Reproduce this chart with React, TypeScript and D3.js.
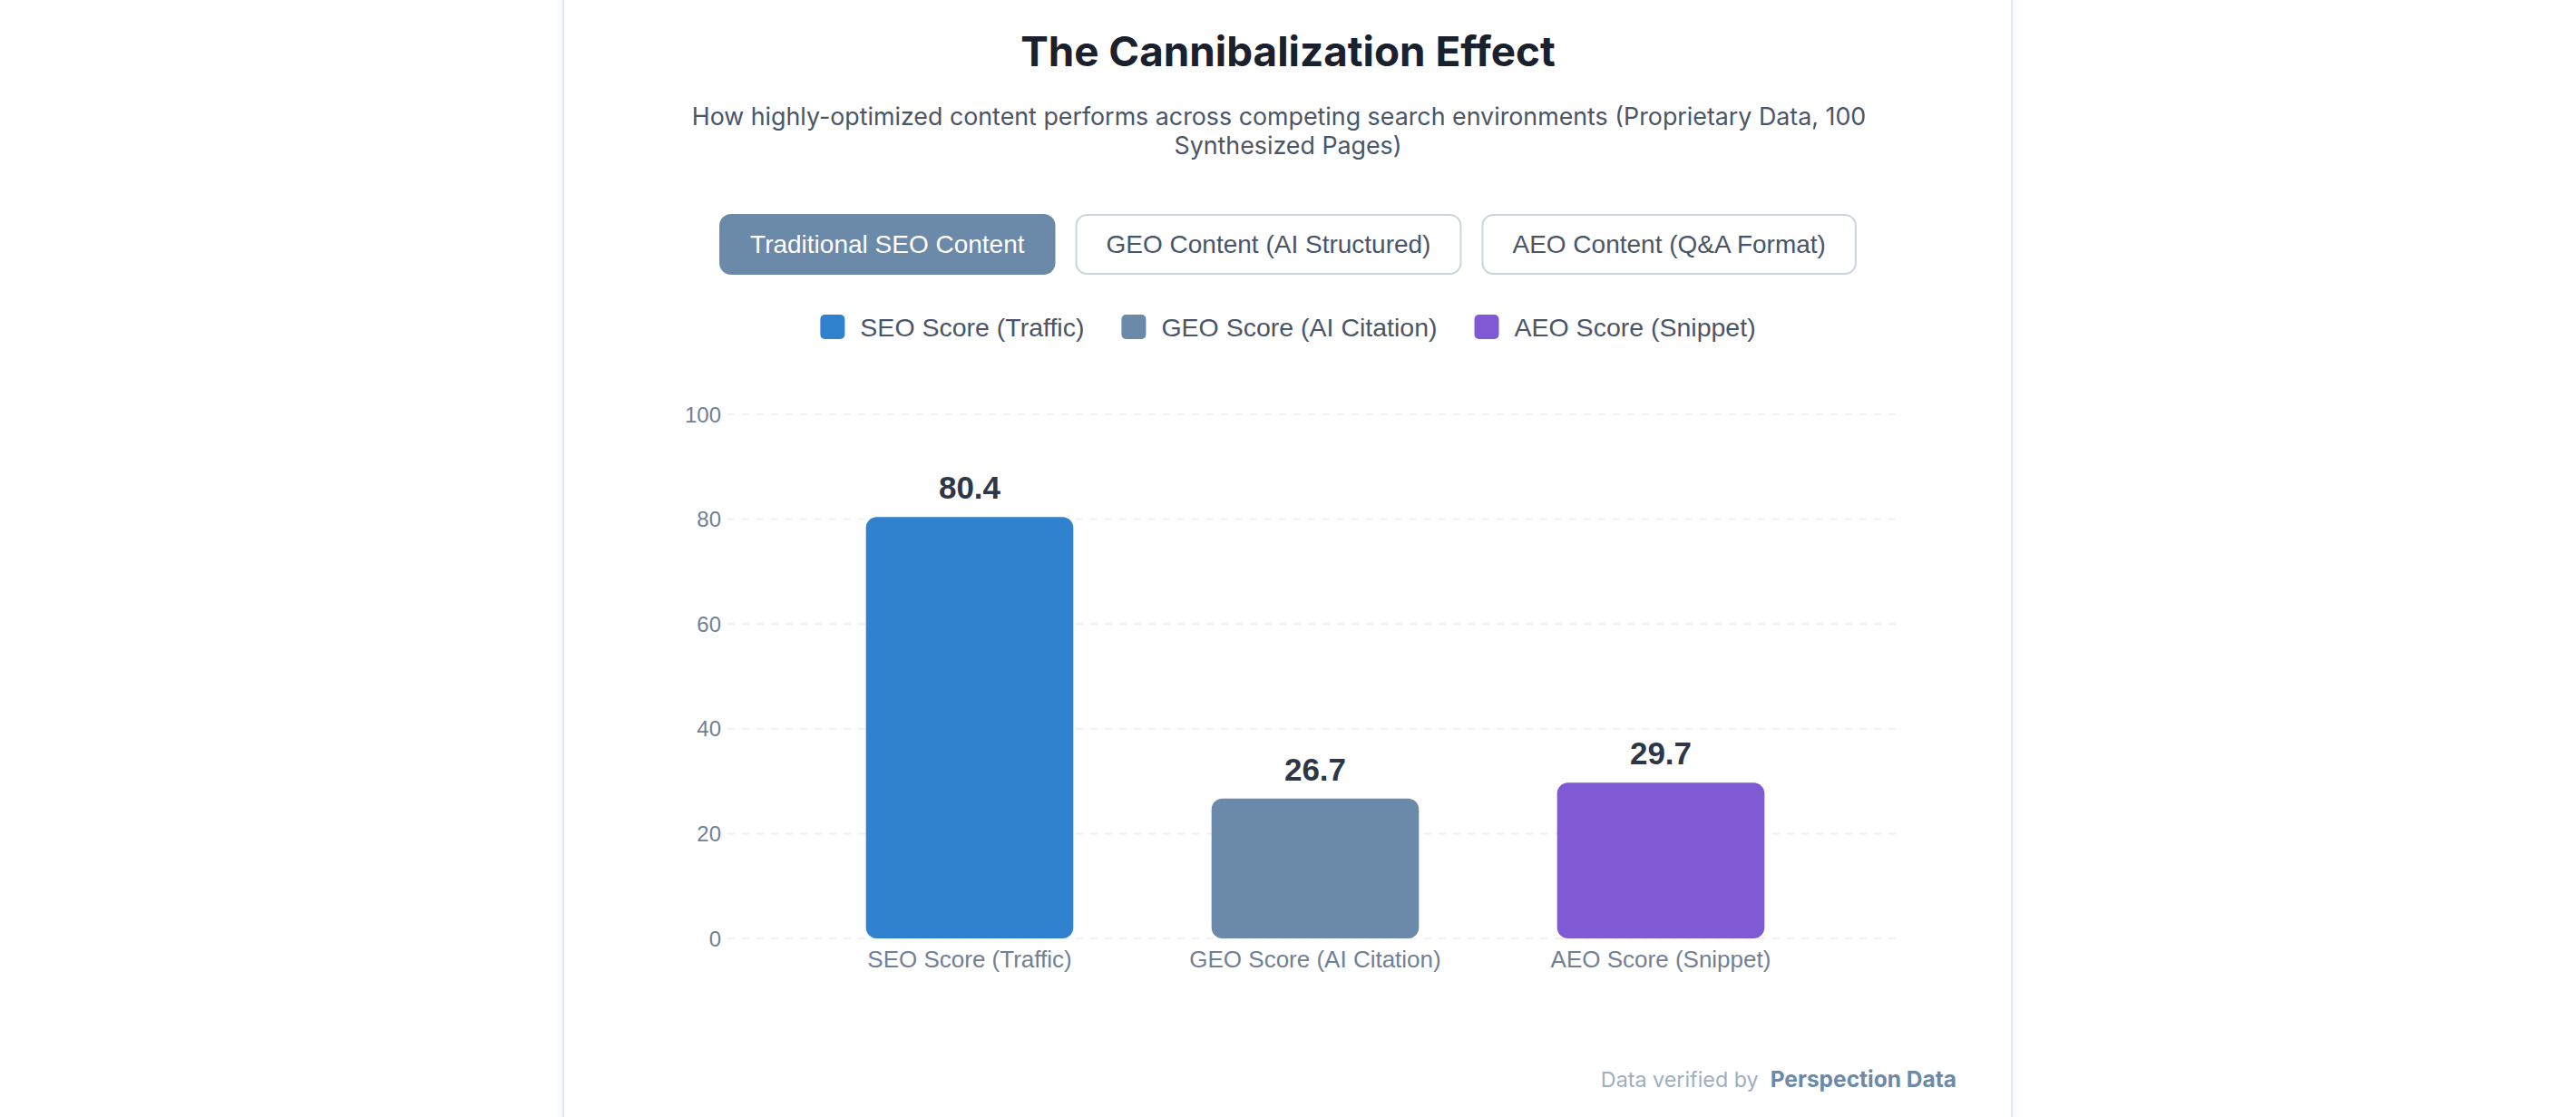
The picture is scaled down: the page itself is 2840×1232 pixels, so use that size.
import React, { useEffect, useRef } from "react";
import * as d3 from "d3";

const categories = ["SEO Score (Traffic)", "GEO Score (AI Citation)", "AEO Score (Snippet)"];
const scores = [80.4, 26.7, 29.7];
const barColors = ["#3182ce", "#6b89a8", "#805ad5"];
const yTicks = [0, 20, 40, 60, 80, 100];
const buttonLabels = ["Traditional SEO Content", "GEO Content (AI Structured)", "AEO Content (Q&A Format)"];
const titleText = "The Cannibalization Effect";
const subtitleLines = [
  "How highly-optimized content performs across competing search environments (Proprietary Data, 100",
  "Synthesized Pages)",
];

const SANS = "Inter, 'Noto Sans', sans-serif";
const HELV = "'Liberation Sans', Arial, sans-serif";

export default function App() {
  const ref = useRef<SVGSVGElement>(null);
  useEffect(() => {
    const svg = d3.select(ref.current);
    svg.selectAll("*").remove();
    const W = 2840;
    const cx = W / 2;

    const defs = svg.append("defs");
    const f = defs.append("filter").attr("id", "sh").attr("x", "-5%").attr("y", "-5%").attr("width", "110%").attr("height", "110%");
    f.append("feDropShadow").attr("dx", 0).attr("dy", 2).attr("stdDeviation", 6).attr("flood-color", "#000").attr("flood-opacity", 0.05);

    svg.append("rect").attr("x", 0).attr("y", 0).attr("width", W).attr("height", 1232).attr("fill", "#ffffff");
    svg.append("rect").attr("x", 621).attr("y", -40).attr("width", 1597).attr("height", 1320)
      .attr("fill", "#ffffff").attr("stroke", "#e2e8f0").attr("stroke-width", 2).attr("filter", "url(#sh)");

    // Title
    svg.append("text").attr("x", cx).attr("y", 73).attr("text-anchor", "middle")
      .attr("font-family", SANS).attr("font-weight", 700).attr("font-size", 45.8).attr("fill", "#1a202c")
      .text(titleText);

    svg.append("g").selectAll("text").data(subtitleLines).join("text")
      .attr("x", (_d, i) => (i === 0 ? cx - 10 : cx)).attr("y", (_d, i) => 138 + i * 32).attr("text-anchor", "middle")
      .attr("font-family", SANS).attr("font-size", 26.8).attr("fill", "#4a5568").text((d) => d);

    // Buttons
    const bg = svg.append("g");
    const padX = 34, gapB = 22, bY = 236, bH = 67;
    const btnTexts = buttonLabels.map((t, i) =>
      bg.append("text").attr("font-family", HELV).attr("font-size", 28)
        .attr("fill", i === 0 ? "#ffffff" : "#4a5568").attr("text-anchor", "middle")
        .attr("y", bY + bH / 2).attr("dominant-baseline", "central").text(t)
    );
    const bw = btnTexts.map((t) => (t.node() as SVGTextElement).getComputedTextLength() + padX * 2);
    const totalB = d3.sum(bw) + gapB * (bw.length - 1);
    let bx = cx - totalB / 2;
    btnTexts.forEach((t, i) => {
      bg.insert("rect", "text").attr("x", bx + 1).attr("y", bY + 1).attr("width", bw[i] - 2).attr("height", bH - 2)
        .attr("rx", 12).attr("fill", i === 0 ? "#6b89a8" : "#ffffff")
        .attr("stroke", i === 0 ? "#6b89a8" : "#cbd5e0").attr("stroke-width", 2);
      t.attr("x", bx + bw[i] / 2);
      bx += bw[i] + gapB;
    });

    // Legend
    const lg = svg.append("g");
    const box = 27, boxGap = 17, itemGap = 41, lY = 360.5;
    const lTexts = categories.map((c) =>
      lg.append("text").attr("font-family", HELV).attr("font-size", 28.5).attr("fill", "#4a5568")
        .attr("y", lY).attr("dominant-baseline", "central").text(c)
    );
    const lw = lTexts.map((t) => (t.node() as SVGTextElement).getComputedTextLength());
    const totalL = d3.sum(lw) + categories.length * (box + boxGap) + itemGap * (categories.length - 1);
    let lx = cx - totalL / 2;
    lTexts.forEach((t, i) => {
      lg.append("rect").attr("x", lx).attr("y", lY - box / 2).attr("width", box).attr("height", box)
        .attr("rx", 5).attr("fill", barColors[i]);
      t.attr("x", lx + box + boxGap);
      lx += box + boxGap + lw[i] + itemGap;
    });

    // Chart
    const y = d3.scaleLinear().domain([0, 100]).range([1035, 457]);
    const x = d3.scaleBand<string>().domain(categories).range([878.5, 2021.5]).paddingInner(0.4).paddingOuter(0.2);
    const gridL = 802, gridR = 2098;

    const grid = svg.append("g");
    grid.selectAll("line").data(yTicks).join("line")
      .attr("x1", gridL).attr("x2", gridR).attr("y1", (d) => y(d)).attr("y2", (d) => y(d))
      .attr("stroke", "#edf0f4").attr("stroke-width", 2).attr("stroke-dasharray", "8,8");
    grid.selectAll("text").data(yTicks).join("text")
      .attr("x", 795).attr("y", (d) => y(d)).attr("text-anchor", "end").attr("dominant-baseline", "central")
      .attr("font-family", HELV).attr("font-size", 24).attr("fill", "#718096").text((d) => d);

    const bars = svg.append("g");
    bars.selectAll("rect").data(scores).join("rect")
      .attr("x", (_d, i) => x(categories[i])!).attr("width", x.bandwidth())
      .attr("y", (d) => y(d)).attr("height", (d) => y(0) - y(d)).attr("rx", 12)
      .attr("fill", (_d, i) => barColors[i]);
    bars.selectAll("text.v").data(scores).join("text").attr("class", "v")
      .attr("x", (_d, i) => x(categories[i])! + x.bandwidth() / 2).attr("y", (d) => y(d) - 20)
      .attr("text-anchor", "middle").attr("font-family", HELV).attr("font-weight", 700)
      .attr("font-size", 35).attr("fill", "#2d3748").text((d) => d.toFixed(1));

    svg.append("g").selectAll("text").data(categories).join("text")
      .attr("x", (d) => x(d)! + x.bandwidth() / 2).attr("y", 1067).attr("text-anchor", "middle")
      .attr("font-family", HELV).attr("font-size", 26).attr("fill", "#718096").text((d) => d);

    // Footer
    const ft = svg.append("g");
    const bold = ft.append("text").attr("x", 2157).attr("y", 1199).attr("text-anchor", "end")
      .attr("font-family", SANS).attr("font-weight", 700).attr("font-size", 24.5).attr("fill", "#6b89a8")
      .text("Perspection Data");
    const bwid = (bold.node() as SVGTextElement).getComputedTextLength();
    ft.append("text").attr("x", 2157 - bwid - 13).attr("y", 1199).attr("text-anchor", "end")
      .attr("font-family", SANS).attr("font-size", 23.3).attr("fill", "#a0aec0").text("Data verified by");
  }, []);
  return <svg ref={ref} width={2840} height={1232} style={{ position: "absolute", left: 0, top: 0, display: "block" }} />;
}
